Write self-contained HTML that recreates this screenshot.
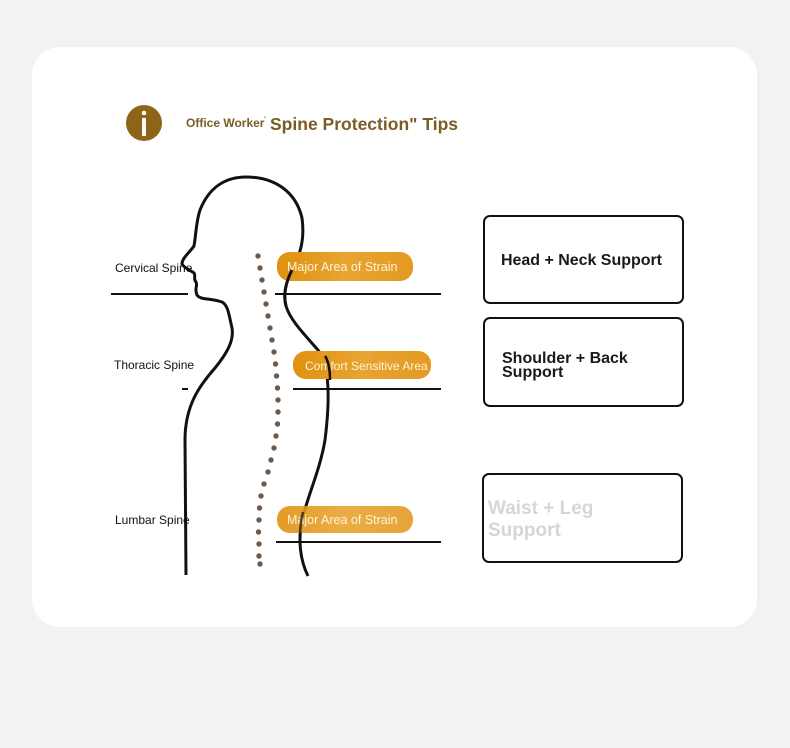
<!DOCTYPE html>
<html><head><meta charset="utf-8"><style>
body{margin:0;width:790px;height:748px;background:#f2f2f2;font-family:"Liberation Sans",sans-serif;overflow:hidden}
</style></head><body>
<svg width="790" height="748" xmlns="http://www.w3.org/2000/svg" style="position:absolute;left:0;top:0">
<defs>
<linearGradient id="pg" x1="0" y1="0" x2="1" y2="0">
<stop offset="0" stop-color="#e0900f"/><stop offset="0.5" stop-color="#e8a431"/><stop offset="1" stop-color="#e39a22"/>
</linearGradient>
</defs>
<rect x="32" y="47" width="725" height="580" rx="28" fill="#fff"/>
<circle cx="144" cy="123" r="18" fill="#8e6418"/>
<circle cx="144" cy="113" r="2.3" fill="#fff"/>
<rect x="142" y="118" width="4" height="18" fill="#fff"/>
<text x="186" y="127" font-size="12" font-weight="bold" fill="#7a5c25">Office Worker</text>
<text x="264" y="121" font-size="6" fill="#7a5c25">"</text>
<text x="270" y="130" font-size="17.5" font-weight="bold" fill="#7a5c25" textLength="188">Spine Protection" Tips</text>

<!-- body outline -->
<path d="M186,575 L185,440 C185,405 200,385 215,368 C228,352 234,340 232,328 C229,315 228,305 222,302 C210,298 200,300 197,295 C194,288 198,286 196,282 C193,279 196,276 194,273 C190,270 184,268 182,264 C182,258 190,252 194,246 C196,235 196,222 200,210 C210,185 228,177 246,177 C275,177 296,192 302,218 C305,240 300,255 292,270 C286,282 283,295 286,306 C290,320 305,335 318,350 C330,365 330,400 325,440 C320,470 308,495 302,520 C298,540 300,560 308,576" fill="none" stroke="#111" stroke-width="3" stroke-linejoin="round"/>

<!-- spine dots -->
<g fill="#6d5a4e">
<circle cx="258" cy="256" r="2.7"/><circle cx="260" cy="268" r="2.7"/><circle cx="262" cy="280" r="2.7"/><circle cx="264" cy="292" r="2.7"/><circle cx="266" cy="304" r="2.7"/><circle cx="268" cy="316" r="2.7"/><circle cx="270" cy="328" r="2.7"/><circle cx="272" cy="340" r="2.7"/><circle cx="274" cy="352" r="2.7"/><circle cx="275.5" cy="364" r="2.7"/><circle cx="276.5" cy="376" r="2.7"/><circle cx="277.5" cy="388" r="2.7"/><circle cx="278" cy="400" r="2.7"/><circle cx="278" cy="412" r="2.7"/><circle cx="277.5" cy="424" r="2.7"/><circle cx="276" cy="436" r="2.7"/><circle cx="274" cy="448" r="2.7"/><circle cx="271" cy="460" r="2.7"/><circle cx="268" cy="472" r="2.7"/><circle cx="264" cy="484" r="2.7"/><circle cx="261" cy="496" r="2.7"/><circle cx="259.5" cy="508" r="2.7"/><circle cx="259" cy="520" r="2.7"/><circle cx="258.5" cy="532" r="2.7"/><circle cx="259" cy="544" r="2.7"/><circle cx="259" cy="556" r="2.7"/><circle cx="260" cy="564" r="2.7"/>
</g>

<!-- lines -->
<g stroke="#111" stroke-width="2">
<line x1="111" y1="294" x2="188" y2="294"/><line x1="275" y1="294" x2="441" y2="294"/>
<line x1="182" y1="389" x2="188" y2="389"/><line x1="293" y1="389" x2="441" y2="389"/>
<line x1="276" y1="542" x2="441" y2="542"/>
</g>

<!-- labels -->
<g font-size="12" fill="#111">
<text x="115" y="272">Cervical Spine</text>
<text x="114" y="369">Thoracic Spine</text>
<text x="115" y="524">Lumbar Spine</text>
</g>

<!-- pills -->
<rect x="277" y="252" width="136" height="29" rx="13" fill="url(#pg)"/>
<text x="287" y="271" font-size="12.5" fill="#fdf3dc">Major Area of Strain</text>
<rect x="293" y="351" width="138" height="28" rx="13" fill="url(#pg)"/>
<text x="305" y="370" font-size="12" fill="#fdf3dc">Comfort Sensitive Area</text>
<rect x="277" y="506" width="136" height="27" rx="13" fill="url(#pg)" opacity="0.9"/>
<text x="287" y="524" font-size="12.5" fill="#fdf3dc">Major Area of Strain</text>

<!-- redraw body segments over pills -->
<path d="M292,270 C286,282 283,295 286,306" fill="none" stroke="#111" stroke-width="3"/>
<path d="M325,356 C329,362 330,372 330,380" fill="none" stroke="#111" stroke-width="2.5"/>
<path d="M303,512 C301,520 300,528 300,536" fill="none" stroke="#111" stroke-width="2.5" opacity="0.7"/>

<!-- boxes -->
<g fill="#fff" stroke="#111" stroke-width="2">
<rect x="484" y="216" width="199" height="87" rx="6"/>
<rect x="484" y="318" width="199" height="88" rx="6"/>
<rect x="483" y="474" width="199" height="88" rx="6"/>
</g>
<g font-weight="bold">
<text x="501" y="265" font-size="16" fill="#1a1a1a" textLength="161">Head + Neck Support</text>
<text x="502" y="363" font-size="16" fill="#1a1a1a">Shoulder + Back</text>
<text x="502" y="377" font-size="16" fill="#1a1a1a">Support</text>
<text x="488" y="514" font-size="19" fill="#d6d6d6">Waist + Leg</text>
<text x="488" y="536" font-size="19" fill="#d6d6d6">Support</text>
</g>
</svg>
</body></html>
